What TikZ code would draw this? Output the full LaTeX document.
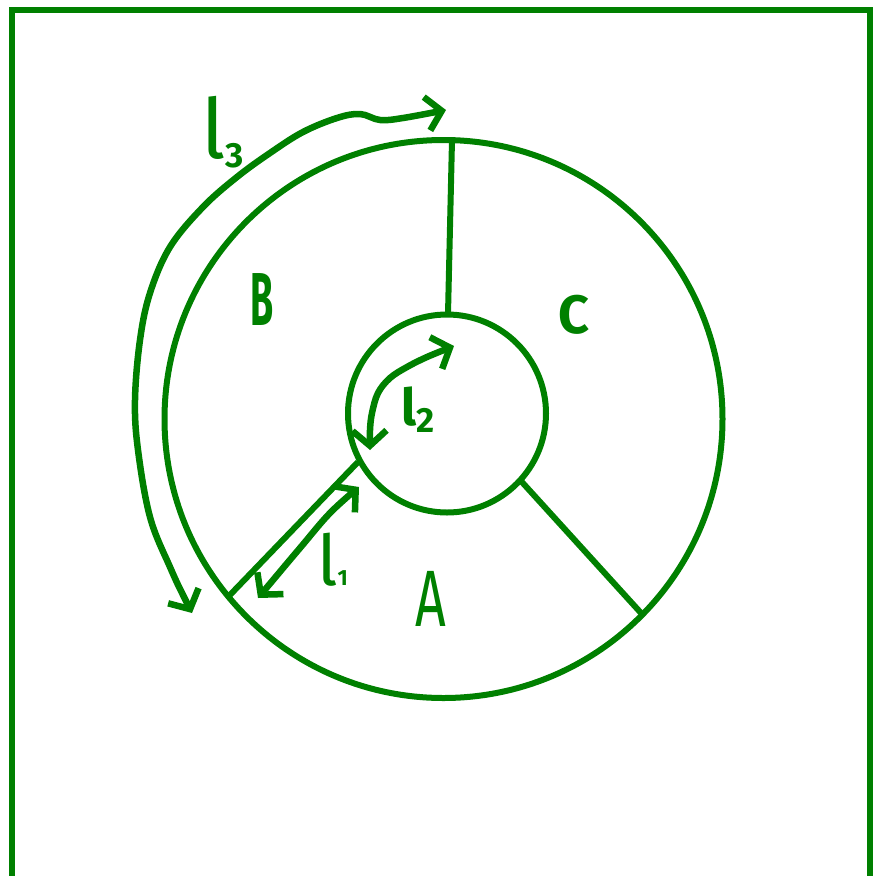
\documentclass[tikz,border=0pt]{standalone}
\usepackage{fontspec}
\setmainfont{Fira Sans}
\usetikzlibrary{arrows.meta}
\definecolor{pen}{RGB}{0,128,0}
\tikzset{penbarb/.tip={Straight Barb[length=15pt,width=34pt]}}
\begin{document}
\begin{tikzpicture}[x=1pt,y=-1pt,
  frame/.style={draw=pen, line width=6pt},
  ink/.style={draw=pen, line width=6pt},
  ring/.style={draw=pen, line width=6pt, circle, inner sep=0pt},
  dimarrow/.style={draw=pen, line width=6.5pt, line cap=round, line join=round, {penbarb}-{penbarb}},
  lbl/.style={text=pen, inner sep=0pt, anchor=base},
]
\useasboundingbox (0,0) rectangle (873,876);
\draw[frame] (11.5,10) rectangle (870,879);

\node[ring, minimum size=558pt] (outer) at (443.5,419) {};
\node[ring, minimum size=198pt] (inner) at (447,413.5) {};

% spokes
\coordinate (t1) at (452,140); \coordinate (t2) at (448,314);
\coordinate (a1) at (228,597); \coordinate (a2) at (358,462);
\coordinate (b1) at (641,613); \coordinate (b2) at (521,481);
\draw[ink] (t1) -- (t2);
\draw[ink] (a1) -- (a2);
\draw[ink] (b1) -- (b2);

% l3 arrow
\coordinate (l3s) at (192,613);
\coordinate (l3e) at (446,110);
\draw[dimarrow] plot[smooth, tension=0.6] coordinates {(l3s) (170,567) (150,517) (138,450) (135,400) (140,340) (150,293) (170,247) (203,207) (237,177) (270,153) (303,132) (337,118) (360,114) (380,120) (403,118) (l3e)};

% l2 arrow
\coordinate (l2s) at (370,450);
\coordinate (l2e) at (454,346);
\draw[dimarrow] plot[smooth, tension=0.6] coordinates {(l2s) (370,430) (372,413) (378,393) (390,378) (407,367) (427,357) (l2e)};

% l1 arrow
\coordinate (l1s) at (258,598);
\coordinate (l1e) at (359,487);
\draw[dimarrow] plot[smooth, tension=0.6] coordinates {(l1s) (300,548) (330,513) (l1e)};

% labels
\node[lbl, font=\fontsize{80}{80}\selectfont] (A) at (431,626) {\scalebox{0.67}[1]{A}};
\node[lbl, font=\fontsize{75}{75}\selectfont\bfseries] (B) at (262,325) {\scalebox{0.5}[1]{B}};
\node[lbl, font=\fontsize{54}{54}\selectfont\bfseries] (C) at (574,333) {C};
\node[lbl, anchor=base west, font=\fontsize{83}{83}\selectfont] (l3) at (201,158) {l\raisebox{-9pt}{\fontsize{35}{35}\selectfont\bfseries 3}};
\node[lbl, anchor=base west, font=\fontsize{51}{51}\selectfont\bfseries] (l2) at (401,425) {l\raisebox{-7pt}{\fontsize{35}{35}\selectfont 2}};
\node[lbl, anchor=base west, font=\fontsize{70}{70}\selectfont] (l1) at (317,585) {l\fontsize{22}{22}\selectfont\bfseries 1};
\end{tikzpicture}
\end{document}
